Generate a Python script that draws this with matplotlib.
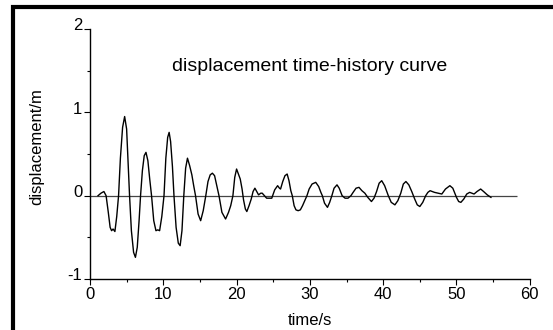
import matplotlib.pyplot as plt
import numpy as np
from matplotlib.patches import Rectangle
from matplotlib.ticker import MultipleLocator
import matplotlib.transforms as mtransforms

plt.rcParams['font.family'] = ['Liberation Sans', 'DejaVu Sans']
plt.rcParams['axes.unicode_minus'] = False

# values
time_s = [1.1, 1.5, 1.9, 2.2, 2.5, 2.75, 2.95, 3.15, 3.4, 3.65, 3.9, 4.15, 4.45, 4.73,
          5.0, 5.2, 5.4, 5.65, 5.95, 6.2, 6.45, 6.7, 6.9, 7.15, 7.4, 7.64, 7.9, 8.15,
          8.4, 8.7, 9.0, 9.25, 9.5, 9.8, 10.1, 10.35, 10.6, 10.8, 11.0, 11.25, 11.46,
          11.75, 12.05, 12.3, 12.55, 12.8, 13.05, 13.3, 13.6, 13.9, 14.15, 14.4, 14.75,
          15.1, 15.45, 15.8, 16.1, 16.4, 16.7, 17.0, 17.3, 17.6, 18.0, 18.5, 18.9, 19.2,
          19.5, 19.75, 20.0, 20.5, 20.75, 20.95, 21.2, 21.4, 21.7, 22.0, 22.25, 22.5,
          22.75, 23.0, 23.3, 23.5, 23.8, 24.1, 24.5, 24.8, 25.0, 25.2, 25.6, 25.85, 26.0,
          26.3, 26.6, 26.9, 27.15, 27.4, 27.6, 27.85, 28.1, 28.4, 28.7, 29.0, 29.3, 29.6,
          29.9, 30.3, 30.8, 31.2, 31.5, 31.7, 32.0, 32.4, 32.7, 33.0, 33.3, 33.7, 34.0,
          34.4, 34.8, 35.2, 35.6, 35.9, 36.3, 36.7, 37.1, 37.5, 37.9, 38.4, 38.75, 39.1,
          39.45, 39.8, 40.2, 40.7, 41.1, 41.6, 42.0, 42.4, 42.75, 43.1, 43.5, 43.9, 44.3,
          44.65, 45.0, 45.4, 45.8, 46.1, 46.4, 47.0, 47.5, 48.0, 48.5, 49.1, 49.5, 50.0,
          50.3, 50.6, 51.0, 51.4, 51.8, 52.1, 52.4, 52.8, 53.3, 53.7, 54.2, 54.7]
disp_m = [0.0, 0.03, 0.05, 0.0, -0.2, -0.38, -0.42, -0.40, -0.43, -0.25, 0.0, 0.45, 0.82, 0.95,
          0.8, 0.4, 0.0, -0.42, -0.68, -0.74, -0.62, -0.3, 0.0, 0.3, 0.48, 0.52, 0.42, 0.2,
          0.0, -0.3, -0.42, -0.41, -0.42, -0.25, 0.0, 0.45, 0.7, 0.76, 0.65, 0.35, 0.0,
          -0.38, -0.57, -0.60, -0.42, 0.0, 0.33, 0.45, 0.36, 0.25, 0.12, 0.0, -0.22,
          -0.30, -0.18, 0.0, 0.17, 0.25, 0.27, 0.24, 0.12, 0.0, -0.2, -0.28, -0.2, -0.12,
          0.0, 0.22, 0.32, 0.2, 0.08, -0.05, -0.16, -0.19, -0.12, -0.04, 0.05, 0.09,
          0.05, 0.01, 0.03, 0.03, 0.0, -0.03, -0.03, -0.03, 0.02, 0.07, 0.12, 0.09, 0.08,
          0.17, 0.24, 0.26, 0.18, 0.06, 0.0, -0.12, -0.17, -0.18, -0.17, -0.12, -0.06, 0.0,
          0.08, 0.14, 0.16, 0.11, 0.04, 0.0, -0.09, -0.14, -0.08, 0.0, 0.09, 0.13, 0.09,
          0.0, -0.03, -0.03, 0.0, 0.04, 0.09, 0.10, 0.06, 0.03, -0.02, -0.07, -0.03, 0.05,
          0.15, 0.18, 0.12, 0.0, -0.08, -0.11, -0.06, 0.03, 0.14, 0.17, 0.13, 0.05, -0.04,
          -0.11, -0.13, -0.08, 0.0, 0.04, 0.06, 0.04, 0.03, 0.02, 0.08, 0.12, 0.09, -0.02,
          -0.07, -0.08, -0.04, 0.02, 0.04, 0.03, 0.02, 0.05, 0.08, 0.05, 0.01, -0.02]

zero_line_end = 58.3

fig = plt.figure(figsize=(5.53, 3.30), dpi=100)
ax = fig.add_axes([0.1627, 0.1545, 0.7953, 0.7575])

ax.hlines(0, 0, zero_line_end, color='#444444', lw=0.9)
ax.plot(time_s, disp_m, color='black', lw=1.0)

ax.set_xlim(0, 60)
ax.set_ylim(-1, 2)
ax.xaxis.set_major_locator(MultipleLocator(10))
ax.xaxis.set_minor_locator(MultipleLocator(5))
ax.yaxis.set_major_locator(MultipleLocator(1))
ax.yaxis.set_minor_locator(MultipleLocator(0.5))

for side in ['top', 'right']:
    ax.spines[side].set_visible(False)
for side in ['left', 'bottom']:
    ax.spines[side].set_linewidth(1.0)

ax.tick_params(which='major', direction='out', length=4.5, width=0.8, labelsize=12, pad=1)
ax.tick_params(which='minor', direction='out', length=2.5, width=0.8)

# y tick labels sit a little above their ticks in the reference
fig.canvas.draw()
shift = mtransforms.ScaledTranslation(0, 3.5 / 72, fig.dpi_scale_trans)
for lab in ax.get_yticklabels():
    lab.set_transform(lab.get_transform() + shift)

ax.set_xlabel('time/s', fontsize=12, labelpad=8)
ax.set_ylabel('displacement/m', fontsize=12)
ax.yaxis.set_label_coords(-0.105, 0.53)
ax.text(0.5, 0.85, 'displacement time-history curve', transform=ax.transAxes,
        ha='center', va='center', fontsize=14)

# frame of the original screenshot (top and left edges)
fig.patches.append(Rectangle((12.5 / 553, -0.1), 1.2, 1.1 - 7 / 330, transform=fig.transFigure,
                             fill=False, edgecolor='black', lw=3, clip_on=False))

fig.savefig('out.png', dpi=100)
